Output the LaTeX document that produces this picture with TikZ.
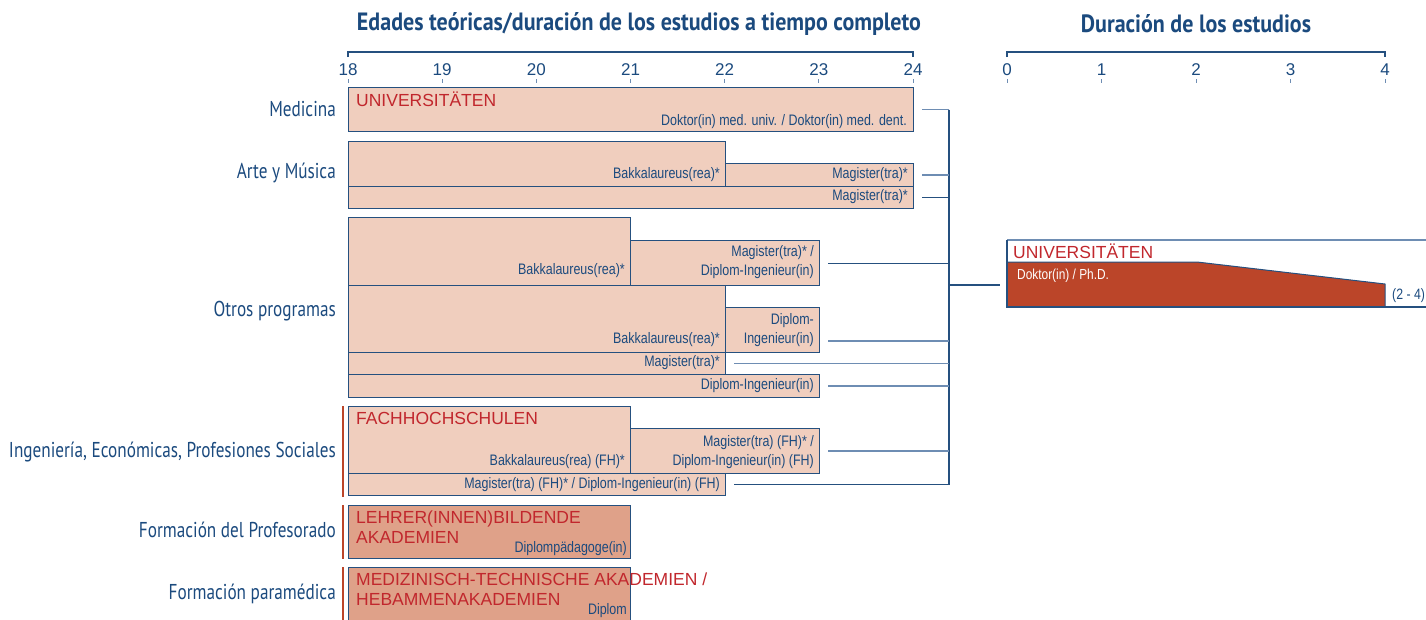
\documentclass[tikz,border=0pt]{standalone}
\usepackage{fontspec}
\setmainfont{Liberation Sans}
\newfontfamily\narrowfont[FakeStretch=0.82]{Liberation Sans}
\newfontfamily\condfont[FakeStretch=0.8]{PT Sans}
\newfontfamily\condbold[FakeStretch=0.88]{PT Sans Bold}
\usetikzlibrary{calc}
\definecolor{txtblue}{HTML}{1B4A7E}
\definecolor{bordercol}{HTML}{25507F}
\definecolor{peach}{HTML}{F0CEBE}
\definecolor{darkpeach}{HTML}{DFA189}
\definecolor{redtxt}{HTML}{C1272D}
\definecolor{orangered}{HTML}{BB4529}
\definecolor{lightconn}{HTML}{6E8DB3}
\begin{document}
\begin{tikzpicture}[x=1pt,y=-1pt,
  box/.style={draw=bordercol, fill=peach, line width=1.1pt, inner sep=0pt, anchor=north west},
  dbox/.style={box, fill=darkpeach},
  lab/.style={font=\condfont\fontsize{21.5}{24}\selectfont, text=txtblue, anchor=east, inner sep=0pt},
  ttl/.style={font=\condbold\fontsize{25}{28}\selectfont, text=txtblue, inner sep=0pt},
  nar/.style={font=\narrowfont\fontsize{15.2}{19}\selectfont, text=txtblue, anchor=east, align=right, inner sep=0pt},
  inst/.style={font=\fontsize{17.5}{20.5}\selectfont, text=redtxt, anchor=west, align=left, inner sep=0pt},
  num/.style={font=\fontsize{17}{20}\selectfont, text=txtblue, inner sep=0pt},
  axisline/.style={draw=bordercol, line width=1.1pt},
  tick/.style={draw=lightconn, line width=1pt},
  conn/.style={draw=lightconn, line width=1.2pt},
  spine/.style={draw=bordercol, line width=1.1pt},
  redbar/.style={draw=orangered, line width=2.8pt}
]
\useasboundingbox (0,0) rectangle (1426,619);

% ---------- titles ----------
\node[ttl] (title1) at (639,24) {Edades teóricas/duración de los estudios a tiempo completo};
\node[ttl] (title2) at (1196,24) {Duración de los estudios};

% ---------- left axis ----------
\draw[axisline] (348,57) -- (348,52) -- (913,52) -- (913,57);
\foreach \i/\a in {0/18,1/19,2/20,3/21,4/22,5/23,6/24}{
  \node[num] (ax\i) at ({348+\i*94.17},70) {\a};
  \draw[tick] ({348+\i*94.17},79) -- ({348+\i*94.17},83);
}
% ---------- right axis ----------
\draw[axisline] (1007,57) -- (1007,52) -- (1385,52) -- (1385,57);
\foreach \i in {0,...,4}{
  \node[num] (bx\i) at ({1007+\i*94.5},70) {\i};
  \draw[tick] ({1007+\i*94.5},79) -- ({1007+\i*94.5},83);
}

% ---------- row labels ----------
\node[lab] (lmed) at (336,109) {Medicina};
\node[lab] (lart) at (336,173) {Arte y Música};
\node[lab] (lotr) at (336,311) {Otros programas};
\node[lab] (ling) at (336,452) {Ingeniería, Económicas, Profesiones Sociales};
\node[lab] (lpro) at (336,530) {Formación del Profesorado};
\node[lab] (lpar) at (336,594) {Formación paramédica};

% ---------- Medicina ----------
\node[box, minimum width=565pt, minimum height=44pt] (med) at (348,87) {};
\node[inst] (uni1) at (356,99) {UNIVERSITÄTEN};
\node[nar] (tmed) at (907,122) {Doktor(in) med. univ. / Doktor(in) med. dent.};

% ---------- Arte y Musica ----------
\node[box, minimum width=377pt, minimum height=45pt] (artb) at (348,141) {};
\node[box, minimum width=188pt, minimum height=23pt] (artm) at (725,163) {};
\node[box, minimum width=565pt, minimum height=22pt] (artm2) at (348,186) {};
\node[nar] (tartb) at (720,175) {Bakkalaureus(rea)*};
\node[nar] (tartm) at (908,175) {Magister(tra)*};
\node[nar] (tartm2) at (908,197) {Magister(tra)*};

% ---------- Otros programas ----------
\node[box, minimum width=282pt, minimum height=68pt] (otb1) at (348,217) {};
\node[box, minimum width=189pt, minimum height=45pt] (otm1) at (630,240) {};
\node[box, minimum width=377pt, minimum height=67pt] (otb2) at (348,285) {};
\node[box, minimum width=94pt, minimum height=45pt] (otd2) at (725,307) {};
\node[box, minimum width=377pt, minimum height=22pt] (otm3) at (348,352) {};
\node[box, minimum width=471pt, minimum height=23pt] (otd4) at (348,374) {};
\node[nar] (totb1) at (625,271) {Bakkalaureus(rea)*};
\node[nar] (totm1) at (814,262) {Magister(tra)* /\\Diplom-Ingenieur(in)};
\node[nar] (totb2) at (720,340) {Bakkalaureus(rea)*};
\node[nar] (totd2) at (814,330) {Diplom-\\Ingenieur(in)};
\node[nar] (totm3) at (720,363) {Magister(tra)*};
\node[nar] (totd4) at (814,386) {Diplom-Ingenieur(in)};

% ---------- Fachhochschulen ----------
\draw[redbar] (343,406) -- (343,497);
\node[box, minimum width=282pt, minimum height=67pt] (fhb) at (348,406) {};
\node[box, minimum width=189pt, minimum height=45pt] (fhm) at (630,428) {};
\node[box, minimum width=377pt, minimum height=22pt] (fhm2) at (348,473) {};
\node[inst] (fhtitle) at (356,418) {FACHHOCHSCHULEN};
\node[nar] (tfhb) at (625,462) {Bakkalaureus(rea) (FH)*};
\node[nar] (tfhm) at (814,452) {Magister(tra) (FH)* /\\Diplom-Ingenieur(in) (FH)};
\node[nar] (tfhm2) at (720,485) {Magister(tra) (FH)* / Diplom-Ingenieur(in) (FH)};

% ---------- Lehrer ----------
\draw[redbar] (343,505) -- (343,559);
\node[dbox, minimum width=282pt, minimum height=53pt] (leh) at (348,505) {};
\node[inst] (lehtitle) at (356,527) {LEHRER(INNEN)BILDENDE\\AKADEMIEN};
\node[nar] (tleh) at (627,549) {Diplompädagoge(in)};

% ---------- Medizin ----------
\draw[redbar] (343,567) -- (343,625);
\node[dbox, minimum width=282pt, minimum height=60pt] (mtd) at (348,567) {};
\node[inst] (mtdtitle) at (356,589) {MEDIZINISCH-TECHNISCHE AKADEMIEN /\\HEBAMMENAKADEMIEN};
\node[nar] (tmtd) at (627,611) {Diplom};

% ---------- right panel ----------
\coordinate (rtop) at (1007,240);
\draw[draw=lightconn, line width=1.2pt] (rtop) -- (1440,240);
\fill[orangered] (1007,262) -- (1197,262) -- (1385,284) -- (1385,307) -- (1007,307) -- cycle;
\draw[draw=bordercol, line width=1pt] (1007,262) -- (1197,262) -- (1385,284) -- (1385,307);
\draw[draw=bordercol, line width=1.2pt] (1007,240) -- (1007,307) -- (1440,307);
\node[inst] (uni2) at (1013,251) {UNIVERSITÄTEN};
\node[font=\narrowfont\fontsize{14.5}{17}\selectfont, text=white, anchor=west, inner sep=0pt] (phd) at (1017,276) {Doktor(in) / Ph.D.};
\node[font=\narrowfont\fontsize{15}{18}\selectfont, text=txtblue, anchor=west, inner sep=0pt] (dur) at (1392,296) {(2 - 4)};
\coordinate (phdin) at (1000,285);

% ---------- connectors ----------
\coordinate (sp) at (949,0);
\draw[spine] (med.east -| sp) -- (fhm2.east -| sp);
\draw[conn] ([xshift=8pt]med.east) -- (med.east -| sp);
\draw[conn] ([xshift=8pt]artm.east) -- (artm.east -| sp);
\draw[spine] ([xshift=8pt]artm2.east) -- (artm2.east -| sp);
\draw[spine] ([xshift=8pt]otm1.east) -- (otm1.east -| sp);
\draw[conn] ([xshift=8pt,yshift=-11pt]otd2.east) -- ([yshift=-11pt]otd2.east -| sp);
\draw[conn] ([xshift=8pt]otm3.east) -- (otm3.east -| sp);
\draw[conn] ([xshift=8pt]otd4.east) -- (otd4.east -| sp);
\draw[conn] ([xshift=8pt]fhm.east) -- (fhm.east -| sp);
\draw[spine] ([xshift=8pt]fhm2.east) -- (fhm2.east -| sp);
\draw[spine] (phdin -| sp) -- (phdin);
\end{tikzpicture}
\end{document}
